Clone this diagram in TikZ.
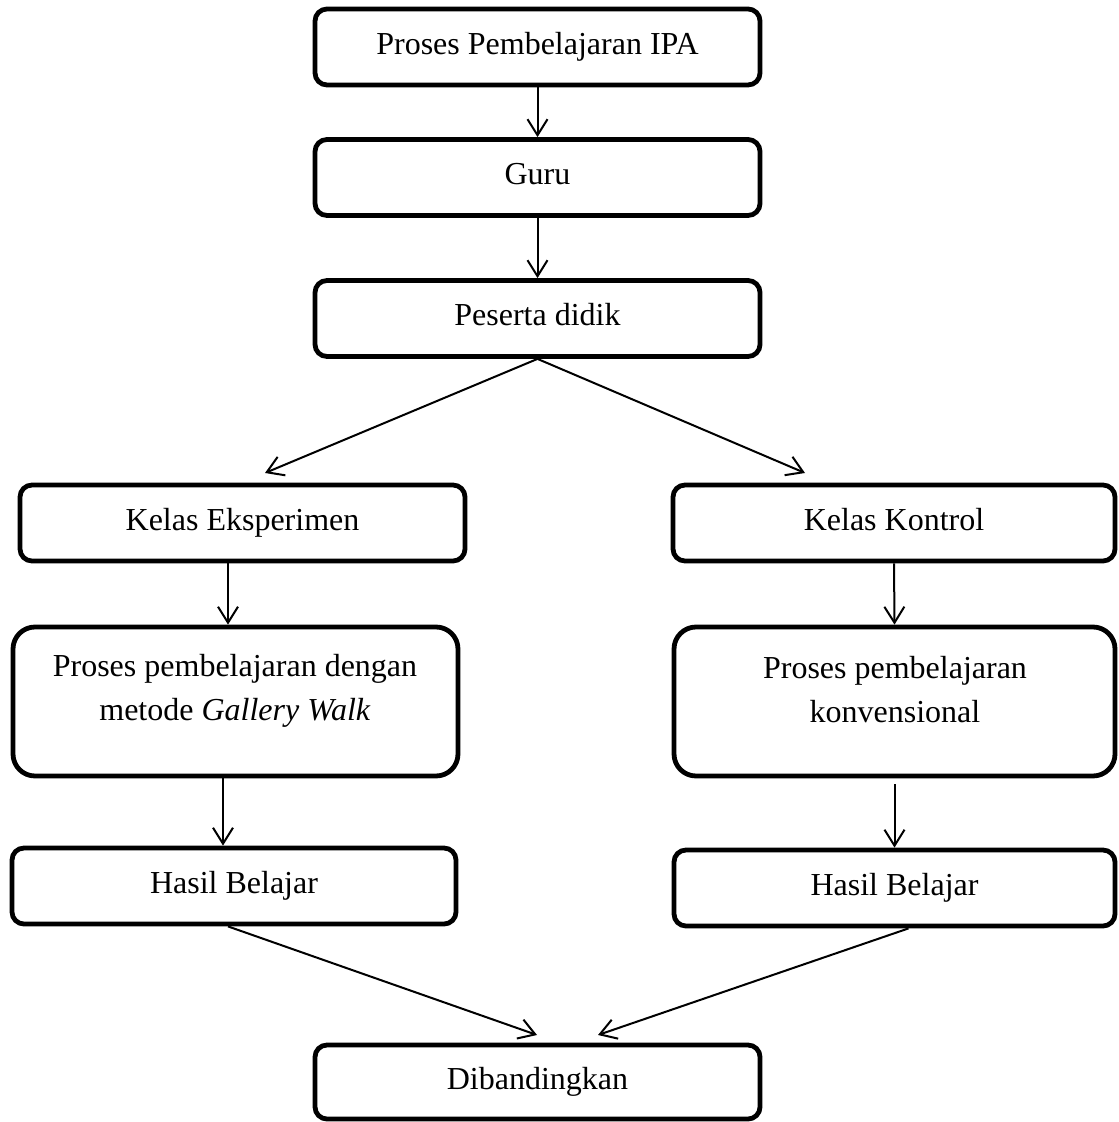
\documentclass[tikz,border=0pt]{standalone}
\usepackage{fontspec}
\setmainfont{Liberation Serif}
\usetikzlibrary{arrows.meta}
\begin{document}
\begin{tikzpicture}[x=0.5pt,y=-0.5pt,
  box/.style={draw, line width=2.4pt, rounded corners=6pt, inner sep=0pt,
    font=\fontsize{16}{22}\selectfont, text height=11.5pt, text depth=4pt,
    minimum width=222.5pt, minimum height=38pt},
  bigbox/.style={box, rounded corners=11pt, minimum height=74.5pt},
  lbl/.style={font=\fontsize{16}{22}\selectfont, align=center, inner sep=0pt},
  arr/.style={-{Straight Barb[length=8pt,width=10pt,line width=1pt]}, line width=1pt}]
\useasboundingbox (0,0) rectangle (1118,1122);
% boxes
\node[box] (p1) at (537.5,47) {Proses Pembelajaran IPA};
\node[box] (guru) at (537.5,177.5) {Guru};
\node[box] (pd) at (537.5,318.5) {Peserta didik};
\node[box] (ke) at (242.5,523) {Kelas Eksperimen};
\node[box, minimum width=221pt] (kk) at (894,523) {Kelas Kontrol};
\node[bigbox] (gw) at (235.5,701.5) {};
\node[lbl] (gwt) at (235,690.5) {Proses pembelajaran dengan\\metode \textit{Gallery Walk}};
\node[bigbox, minimum width=220.5pt] (kv) at (894.5,701.5) {};
\node[lbl] (kvt) at (895,690) {Proses pembelajaran\\konvensional};
\node[box, minimum width=222pt] (h1) at (234,886) {Hasil Belajar};
\node[box, minimum width=220.5pt] (h2) at (894.5,888) {Hasil Belajar};
\node[box, minimum height=37pt] (d) at (537.5,1082) {Dibandingkan};
% helper coordinates
\coordinate (t1) at (265,473);
\coordinate (t2) at (805,473);
\coordinate (t3) at (537,1035);
\coordinate (t4) at (598,1035);
\coordinate (a1) at (228,0);
\coordinate (a2) at (223,0);
% connectors
\draw[arr] (p1.south) -- (guru.north);
\draw[arr] (guru.south) -- (pd.north);
\draw[arr] (pd.south) -- (t1);
\draw[arr] (pd.south) -- (t2);
\draw[arr] (ke.south -| a1) -- (gw.north -| a1);
\draw[arr] (kk.south) -- (kv.north);
\draw[arr] (gw.south -| a2) -- (h1.north -| a2);
\draw[arr] ([yshift=-3pt]kv.south) -- (h2.north);
\draw[arr] ([xshift=-3pt]h1.south) -- (t3);
\draw[arr] ([xshift=7pt]h2.south) -- (t4);
\end{tikzpicture}
\end{document}
